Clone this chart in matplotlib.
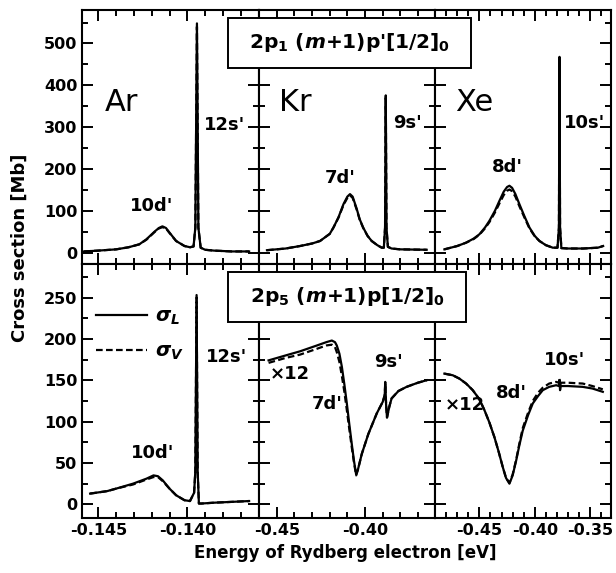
import numpy as np
import matplotlib
matplotlib.use("Agg")
import matplotlib.pyplot as plt
from matplotlib.lines import Line2D
from matplotlib.patches import Rectangle
from matplotlib.ticker import MultipleLocator

plt.rcParams['font.family'] = ['DejaVu Sans']
plt.rcParams['font.weight'] = 'bold'
plt.rcParams['mathtext.fontset'] = 'custom'
plt.rcParams['mathtext.rm'] = 'DejaVu Sans:bold'
plt.rcParams['mathtext.it'] = 'DejaVu Sans:italic:bold'
plt.rcParams['mathtext.bf'] = 'DejaVu Sans:bold'

# --- Ar, 2p1 -> 12s' / 10d'
ar1_x = [-0.14580, -0.14500, -0.14400, -0.14330, -0.14270, -0.14230, -0.14185,
         -0.14160, -0.14140, -0.14120, -0.14100, -0.14063, -0.14016, -0.13985,
         -0.13965, -0.13955, -0.13946, -0.13938, -0.13925, -0.13900, -0.13850,
         -0.13750, -0.13653]
ar1_L = [3, 5, 8, 13, 20, 32, 50, 59, 63, 59, 48, 28, 16, 13, 15, 60, 548, 60,
         12, 7, 5, 3, 3]
ar1_V = [3, 5, 8, 13, 20, 31, 49, 58, 61, 58, 47, 28, 16, 13, 15, 60, 540, 60,
         12, 7, 5, 3, 3]

# --- Kr, 2p1 -> 9s' / 7d'
kr1_x = [-0.4556, -0.4450, -0.4368, -0.4300, -0.4255, -0.4200, -0.4179, -0.4150,
         -0.4122, -0.4100, -0.4085, -0.4070, -0.4047, -0.4030, -0.4010, -0.3985,
         -0.3962, -0.3930, -0.3905, -0.3893, -0.3886, -0.3882, -0.3878, -0.3870,
         -0.3849, -0.3800, -0.3650]
kr1_L = [6, 10, 16, 22, 28, 45, 60, 85, 116, 134, 140, 134, 105, 80, 60, 40,
         28, 18, 12, 12, 60, 376, 60, 14, 10, 8, 7]
kr1_V = [6, 10, 16, 22, 28, 45, 60, 84, 114, 131, 137, 131, 103, 79, 59, 40,
         28, 18, 12, 12, 60, 370, 60, 14, 10, 8, 7]

# --- Xe, 2p1 -> 10s' / 8d'
xe1_x = [-0.4816, -0.4700, -0.4620, -0.4550, -0.4500, -0.4450, -0.4410, -0.4360,
         -0.4319, -0.4280, -0.4250, -0.4229, -0.4205, -0.4175, -0.4139, -0.4095,
         -0.4048, -0.4000, -0.3958, -0.3900, -0.3838, -0.3795, -0.3782, -0.3777,
         -0.3772, -0.3760, -0.3700, -0.3564, -0.3430, -0.3383]
xe1_L = [8, 16, 24, 34, 44, 60, 76, 100, 124, 146, 157, 160, 155, 140, 116, 88,
         60, 40, 28, 18, 12, 12, 60, 468, 60, 11, 10, 10, 12, 16]
xe1_V = [8, 16, 24, 33, 43, 58, 73, 96, 118, 138, 148, 151, 147, 134, 111, 85,
         58, 39, 28, 18, 12, 12, 60, 462, 60, 11, 10, 10, 12, 16]

# --- Ar, 2p5
ar5_x = [-0.14546, -0.14450, -0.14400, -0.14305, -0.14230, -0.14190, -0.14165,
         -0.14138, -0.14100, -0.14063, -0.14016, -0.13985, -0.13962, -0.13955,
         -0.13948, -0.13942, -0.13935, -0.13920, -0.13850, -0.13750, -0.13653]
ar5_L = [13, 16, 19, 25, 31, 35, 34, 29, 19, 11, 5, 4, 14, 40, 253, 40, 1, 1,
         2, 3, 4]
ar5_V = [13, 16, 19, 24, 30, 33, 33, 28, 19, 11, 5, 4, 14, 40, 250, 40, 1, 1,
         2, 3, 4]

# --- Kr, 2p5 (x12)
kr5_x = [-0.4547, -0.4450, -0.4368, -0.4273, -0.4220, -0.4188, -0.4170, -0.4160,
         -0.4145, -0.4131, -0.4117, -0.4103, -0.4089, -0.4075, -0.4062, -0.4050,
         -0.4040, -0.4018, -0.3981, -0.3933, -0.3899, -0.3888, -0.3885, -0.3880,
         -0.3875, -0.3862, -0.3849, -0.3810, -0.3764, -0.3700, -0.3650]
kr5_L = [174, 180, 185, 192, 196, 198, 196, 192, 182, 166, 145, 122, 97, 73,
         52, 36, 42, 61, 85, 110, 124, 132, 148, 120, 105, 118, 128, 137, 142,
         147, 150]
kr5_V = [171, 177, 181, 188, 192, 193, 190, 184, 172, 155, 136, 114, 91, 69,
         50, 35, 42, 61, 85, 110, 124, 132, 146, 120, 105, 118, 128, 137, 142,
         147, 150]

# --- Xe, 2p5 (x12)
xe5_x = [-0.4816, -0.4740, -0.4681, -0.4620, -0.4560, -0.4500, -0.4455, -0.4410,
         -0.4364, -0.4325, -0.4289, -0.4260, -0.4229, -0.4200, -0.4168, -0.4140,
         -0.4109, -0.4060, -0.4018, -0.3970, -0.3928, -0.3870, -0.3807, -0.3782,
         -0.3777, -0.3772, -0.3765, -0.3700, -0.3567, -0.3480, -0.3386]
xe5_L = [158, 156, 152, 146, 138, 127, 114, 99, 81, 63, 45, 32, 25, 35, 53, 71,
         89, 108, 122, 131, 138, 142, 144, 143, 150, 138, 143, 143, 142, 140, 136]
xe5_V = [158, 156, 152, 146, 138, 127, 114, 99, 81, 63, 45, 32, 26, 36, 54, 73,
         92, 111, 125, 135, 141, 146, 148, 147, 153, 142, 147, 147, 146, 143, 139]

xlims = [(-0.1459, -0.1360), (-0.4604, -0.3604), (-0.4903, -0.3312)]
xmajor = [0.005, 0.05, 0.05]
xminor = [0.001, 0.01, 0.01]
xfmt = ["{:.3f}", "{:.2f}", "{:.2f}"]

panels = [[(ar1_x, ar1_L, ar1_V), (kr1_x, kr1_L, kr1_V), (xe1_x, xe1_L, xe1_V)],
          [(ar5_x, ar5_L, ar5_V), (kr5_x, kr5_L, kr5_V), (xe5_x, xe5_L, xe5_V)]]

fig = plt.figure(figsize=(6.16, 5.73), dpi=100)
gs = fig.add_gridspec(2, 3, left=82.3/616, right=611/616, top=1-10/573,
                      bottom=1-518/573, wspace=0, hspace=0)
axs = np.empty((2, 3), dtype=object)
for r in range(2):
    for c in range(3):
        axs[r, c] = fig.add_subplot(gs[r, c])

for r in range(2):
    for c in range(3):
        ax = axs[r, c]
        x, sL, sV = panels[r][c]
        ax.plot(x, sV, color='black', lw=1.6, ls=(0, (3, 1.5)))
        ax.plot(x, sL, color='black', lw=1.6)
        ax.set_xlim(*xlims[c])
        ax.xaxis.set_major_locator(MultipleLocator(xmajor[c]))
        ax.xaxis.set_minor_locator(MultipleLocator(xminor[c]))
        if r == 0:
            ax.set_ylim(-27, 580)
            ax.yaxis.set_major_locator(MultipleLocator(100))
            ax.yaxis.set_minor_locator(MultipleLocator(50))
        else:
            ax.set_ylim(-16.5, 290.5)
            ax.yaxis.set_major_locator(MultipleLocator(50))
            ax.yaxis.set_minor_locator(MultipleLocator(25))
        ax.tick_params(which='both', direction='in', top=True, right=True,
                       width=1.4, labelsize=11.5)
        ax.tick_params(which='major', length=8)
        ax.tick_params(which='minor', length=4.5)
        for s in ax.spines.values():
            s.set_linewidth(1.5)
        if r == 0:
            ax.tick_params(labelbottom=False)
        else:
            f = xfmt[c]
            ax.xaxis.set_major_formatter(lambda v, p, f=f: f.format(v))
        if c > 0:
            ax.tick_params(labelleft=False)

# element names
big = dict(fontsize=22, fontweight='normal', ha='center', va='center')
axs[0, 0].text(-0.14368, 359, "Ar", **big)
axs[0, 1].text(-0.4396, 359, "Kr", **big)
axs[0, 2].text(-0.4545, 359, "Xe", **big)

# resonance labels
lab = dict(fontsize=13, ha='center', va='center')
axs[0, 0].text(-0.13793, 306, "12s'", **lab)
axs[0, 0].text(-0.14201, 112, "10d'", **lab)
axs[0, 1].text(-0.3756, 311, "9s'", **lab)
axs[0, 1].text(-0.4141, 179, "7d'", **lab)
axs[0, 2].text(-0.4247, 206, "8d'", **lab)
axs[0, 2].text(-0.3551, 309, "10s'", **lab)
axs[1, 0].text(-0.13782, 177.6, "12s'", **lab)
axs[1, 0].text(-0.14195, 61.8, "10d'", **lab)
axs[1, 1].text(-0.4424, 157, "\u00d712", **lab)
axs[1, 1].text(-0.4216, 121, "7d'", **lab)
axs[1, 1].text(-0.3869, 172.6, "9s'", **lab)
axs[1, 2].text(-0.4636, 119.6, "\u00d712", **lab)
axs[1, 2].text(-0.4211, 135, "8d'", **lab)
axs[1, 2].text(-0.3732, 174, "10s'", **lab)

# channel boxes
for (x0, y0, x1, y1, s) in [(228, 18, 471, 68, r"2p$_1$ ($m$+1)p'[1/2]$_0$"),
                            (228, 272, 466, 322, r"2p$_5$ ($m$+1)p[1/2]$_0$")]:
    fig.add_artist(Rectangle((x0/616, 1-y1/573), (x1-x0)/616, (y1-y0)/573,
                             transform=fig.transFigure, facecolor='white',
                             edgecolor='black', lw=1.4, zorder=10))
    fig.text((x0+x1)/2/616, 1-(y0+y1)/2/573, s, fontsize=14.5, ha='center',
             va='center', zorder=11)

handles = [Line2D([], [], color='black', lw=1.6),
           Line2D([], [], color='black', lw=1.6, ls=(0, (3, 1.5)))]
axs[1, 0].legend(handles, [r'$\sigma_L$', r'$\sigma_V$'], loc='upper left',
                 bbox_to_anchor=(0.08, 0.83), frameon=False, fontsize=14,
                 handlelength=2.6, handletextpad=0.4, labelspacing=0.75,
                 borderpad=0, borderaxespad=0)

fig.text(0.032, 1-248/573, "Cross section [Mb]", rotation=90, fontsize=13,
         ha='center', va='center')
fig.text(345/616, 1-553/573, "Energy of Rydberg electron [eV]", fontsize=12,
         ha='center', va='center')

fig.savefig("out.png", dpi=100)
